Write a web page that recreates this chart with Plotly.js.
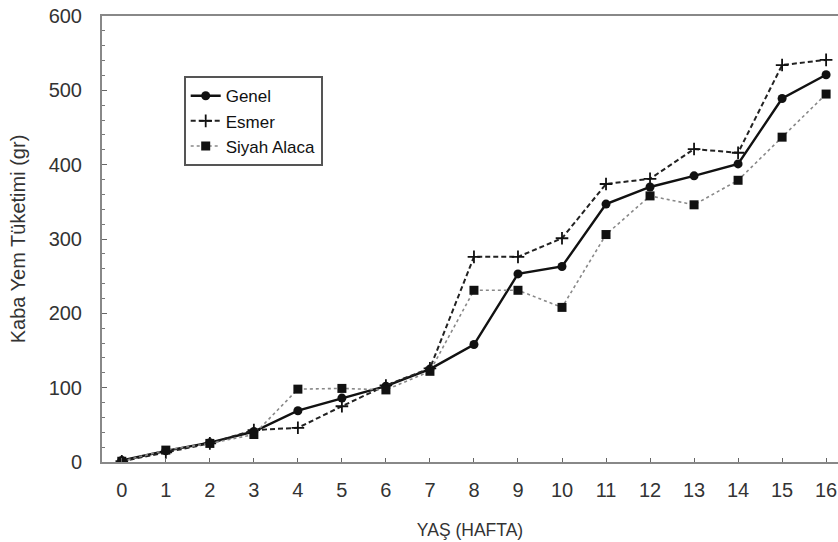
<!DOCTYPE html>
<html>
<head>
<meta charset="utf-8">
<script src="https://cdn.plot.ly/plotly-3.0.1.min.js"></script>
<style>html,body{margin:0;padding:0;background:#fff;}#chart{width:838px;height:542px;}</style>
</head>
<body>
<div id="chart"></div>
<script>
const weeks = [0,1,2,3,4,5,6,7,8,9,10,11,12,13,14,15,16];
const genel = [2,15,26,41,69,86,102,125,158,253,263,347,370,385,401,489,521];
const esmer = [1,13,25,43,46,75,103,126,276,276,301,374,381,421,416,534,541];
const siyahAlaca = [1,16,25,37,98,99,97,122,231,231,208,306,358,346,379,437,495];
const seriesNames = ['Genel','Esmer','Siyah Alaca'];
const xTickLabels = weeks.map(String);
const yTickVals = [0,100,200,300,400,500,600];

const traces = [
  {x: weeks, y: genel, name: seriesNames[0], mode: 'lines+markers',
   line: {color: '#111', width: 2.4},
   marker: {symbol: 'circle', size: 9, color: '#111'}},
  {x: weeks, y: esmer, name: seriesNames[1], mode: 'lines+markers',
   line: {color: '#222', width: 2, dash: '5px,3px'},
   marker: {symbol: 'cross-thin', size: 9, color: '#111', line: {color: '#111', width: 1.8}}},
  {x: weeks, y: siyahAlaca, name: seriesNames[2], mode: 'lines+markers',
   line: {color: '#888', width: 1.6, dash: 'dot'},
   marker: {symbol: 'square', size: 9, color: '#111'}}
];

const fam = 'Liberation Sans, Arial, sans-serif';

const layout = {
  width: 838, height: 542,
  margin: {l: 102, r: 0, t: 16, b: 80},
  paper_bgcolor: '#fff', plot_bgcolor: '#fff',
  font: {family: fam, color: '#333', size: 16},
  showlegend: true,
  legend: {x: 0.111, y: 0.865, xanchor: 'left', yanchor: 'top',
    bgcolor: '#fff', bordercolor: '#555', borderwidth: 2,
    font: {family: fam, size: 17, color: '#111'},
    tracegroupgap: 0, itemwidth: 30, entrywidth: 122},
  xaxis: {range: [-0.45, 16.27], tickmode: 'array', tickvals: weeks, ticktext: xTickLabels,
    ticks: 'inside', ticklen: 4, tickcolor: '#666', tickwidth: 1,
    ticklabelstandoff: 9,
    showgrid: false, zeroline: false,
    showline: true, linecolor: '#888', linewidth: 2, mirror: true,
    tickfont: {family: fam, size: 20, color: '#333'},
    title: {text: 'YAŞ (HAFTA)', font: {family: fam, size: 17.5, color: '#333'}, standoff: 24}},
  yaxis: {range: [0, 600], tickmode: 'array', tickvals: yTickVals,
    ticks: 'inside', ticklen: 5, tickcolor: '#666', tickwidth: 1,
    ticklabelstandoff: 14,
    minor: {dtick: 20, ticks: 'inside', ticklen: 3, tickcolor: '#777', showgrid: false},
    showgrid: false, zeroline: false,
    showline: true, linecolor: '#888', linewidth: 2, mirror: true,
    tickfont: {family: fam, size: 20, color: '#333'},
    title: {text: 'Kaba Yem Tüketimi (gr)', font: {family: fam, size: 20, color: '#333'}, standoff: 18}}
};

Plotly.newPlot('chart', traces, layout, {displayModeBar: false, staticPlot: true});
</script>
</body>
</html>
